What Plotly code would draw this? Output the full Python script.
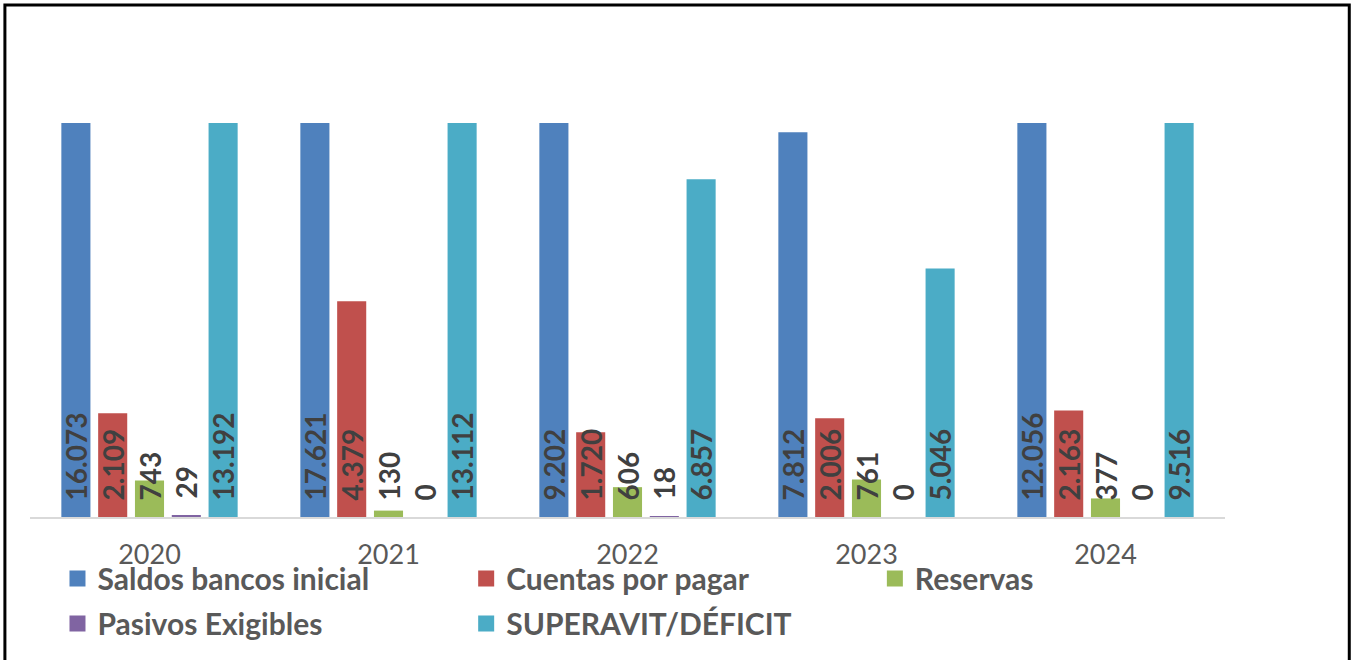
import plotly.graph_objects as go

YEARS = ["2020", "2021", "2022", "2023", "2024"]
SALDOS = [16073, 17621, 9202, 7812, 12056]
CUENTAS = [2109, 4379, 1720, 2006, 2163]
RESERVAS = [743, 130, 606, 761, 377]
PASIVOS = [29, 0, 18, 0, 0]
SUPERAVIT = [13192, 13112, 6857, 5046, 9516]

SERIES = [
    ("Saldos bancos inicial", SALDOS, "#4F81BD"),
    ("Cuentas por pagar", CUENTAS, "#C0504D"),
    ("Reservas", RESERVAS, "#9BBB59"),
    ("Pasivos Exigibles", PASIVOS, "#8064A2"),
    ("SUPERAVIT/DÉFICIT", SUPERAVIT, "#4BACC6"),
]
# which legend column each series sits in (legend is laid out in 3 columns)
LEGEND_COL = ["legend", "legend2", "legend3", "legend", "legend2"]

FONT = "Lato"
LABEL_COLOR = "#404040"
GRAY = "#595959"


def fmt(v):
    # spanish thousands separator, nbsp to lift the label off the base
    return "\u00a0\u00a0" + f"{v:,}".replace(",", ".")


fig = go.Figure()
for name, vals, color in SERIES:
    # zero-height bars lose inside text, so the tiny series goes outside
    pos = "outside" if name == "Pasivos Exigibles" else "inside"
    fig.add_trace(go.Bar(
        x=YEARS, y=vals, name=name,
        marker=dict(color=color, line=dict(width=0)),
        text=[fmt(v) for v in vals],
        textposition=pos,
        insidetextanchor="start",
        textangle=-90,
        constraintext="none",
        textfont=dict(family=FONT, size=28, color=LABEL_COLOR, weight="bold"),
        showlegend=False,
    ))

# legend proxies (bigger squares)
for (name, vals, color), leg in zip(SERIES, LEGEND_COL):
    fig.add_trace(go.Scatter(
        x=[None], y=[None], mode="markers", name=name,
        marker=dict(symbol="square", size=18, color=color),
        legend=leg, legendgroup=name,
    ))

legend_style = dict(
    orientation="v", xanchor="left", yanchor="top", y=-0.09,
    font=dict(family=FONT, size=30, color=GRAY, weight="bold"),
    bgcolor="rgba(0,0,0,0)", borderwidth=0, tracegroupgap=3,
    itemclick=False,
)

fig.update_layout(
    barmode="group",
    bargap=0.23,
    bargroupgap=0.21,
    width=1352, height=660,
    margin=dict(l=30, r=127, t=123, b=143, autoexpand=False),
    plot_bgcolor="white",
    paper_bgcolor="white",
    xaxis=dict(
        type="category",
        showgrid=False,
        showline=True, linecolor="#D9D9D9", linewidth=2,
        ticks="", ticklabelstandoff=13,
        tickfont=dict(family=FONT, size=27, color=GRAY),
    ),
    yaxis=dict(range=[0, 8000], visible=False, showgrid=False),
    legend=dict(x=0.023, **legend_style),
    legend2=dict(x=0.365, **legend_style),
    legend3=dict(x=0.707, **legend_style),
    shapes=[dict(
        type="rect", xref="paper", yref="paper",
        x0=-0.021, x1=1.104, y0=-0.4, y1=1.2995,
        line=dict(color="black", width=3),
    )],
)

# drop the default body margin so the figure sits at the window corner
fig.write_html(
    "out.html",
    config={"displayModeBar": False},
    post_script="document.body.style.margin='0';",
)
